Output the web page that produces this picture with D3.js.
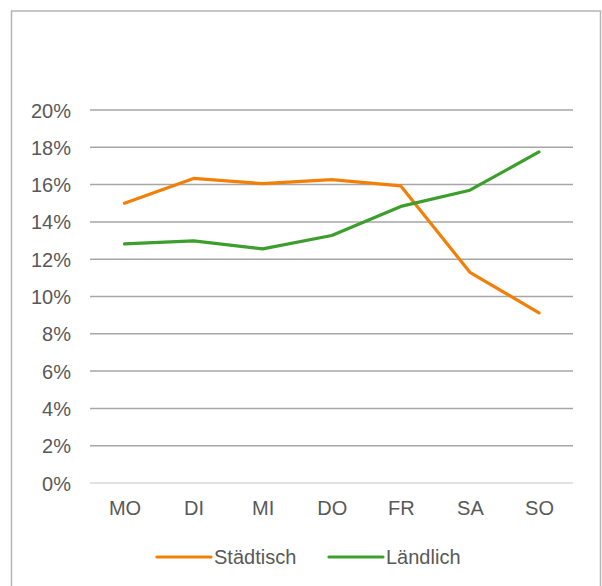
<!DOCTYPE html>
<html>
<head>
<meta charset="utf-8">
<script src="https://cdn.jsdelivr.net/npm/d3@7"></script>
<style>
  html, body { margin: 0; padding: 0; background: #fff; }
  svg { display: block; }
  text { font-family: "Liberation Sans", Arial, sans-serif; fill: #595959; }
</style>
</head>
<body>
<svg id="chart" width="602" height="586"></svg>
<script>
// Weekday share of trips, urban vs rural
const days = ["MO", "DI", "MI", "DO", "FR", "SA", "SO"];
const staedtisch = [15.0, 16.33, 16.05, 16.27, 15.93, 11.3, 9.12];
const laendlich = [12.82, 12.98, 12.55, 13.27, 14.83, 15.7, 17.75];
const yTicks = [0, 2, 4, 6, 8, 10, 12, 14, 16, 18, 20];
const seriesNames = ["Städtisch", "Ländlich"];
const seriesColors = ["#f28008", "#3c9e2c"];

const fontSize = 20;
const svg = d3.select("#chart");

// outer frame
svg.append("rect")
  .attr("x", 11.5).attr("y", 11)
  .attr("width", 589).attr("height", 590)
  .attr("fill", "none")
  .attr("stroke", "#b4b4b4")
  .attr("stroke-width", 1.5);

const x = d3.scalePoint().domain(days).range([124.5, 539]);
const y = d3.scaleLinear().domain([0, 20]).range([483, 110]);
const gridLeft = 90, gridRight = 573;

// horizontal gridlines
svg.append("g").selectAll("line")
  .data(yTicks)
  .join("line")
  .attr("x1", gridLeft).attr("x2", gridRight)
  .attr("y1", d => y(d)).attr("y2", d => y(d))
  .attr("stroke", d => d === 0 ? "#d9d9d9" : "#a6a6a6")
  .attr("stroke-width", 1.5);

// y axis labels
const yAxis = d3.axisLeft(y).tickValues(yTicks).tickFormat(d => d + "%").tickSize(0).tickPadding(0);
const gy = svg.append("g").attr("transform", "translate(71,0)").call(yAxis);
gy.select(".domain").remove();
gy.selectAll("text")
  .attr("font-size", fontSize)
  .attr("font-family", "Liberation Sans, Arial, sans-serif")
  .attr("fill", "#595959")
  .attr("dy", "0.35em");

// x axis labels
const xAxis = d3.axisBottom(x).tickSize(0).tickPadding(0);
const gx = svg.append("g").attr("transform", "translate(0,501)").call(xAxis);
gx.select(".domain").remove();
gx.selectAll("text")
  .attr("font-size", fontSize)
  .attr("font-family", "Liberation Sans, Arial, sans-serif")
  .attr("fill", "#595959")
  .attr("dy", "0.71em");

// series lines
const line = d3.line().x((d, i) => x(days[i])).y(d => y(d));
[staedtisch, laendlich].forEach((vals, k) => {
  svg.append("path")
    .datum(vals)
    .attr("fill", "none")
    .attr("stroke", seriesColors[k])
    .attr("stroke-width", 3.2)
    .attr("stroke-linejoin", "round")
    .attr("stroke-linecap", "round")
    .attr("d", line);
});

// legend
const legendItems = [
  { name: seriesNames[0], color: seriesColors[0], x: 157 },
  { name: seriesNames[1], color: seriesColors[1], x: 329 }
];
const lg = svg.append("g").attr("transform", "translate(0,557)");
legendItems.forEach(it => {
  lg.append("line")
    .attr("x1", it.x).attr("x2", it.x + 54)
    .attr("y1", 0).attr("y2", 0)
    .attr("stroke", it.color)
    .attr("stroke-width", 3.2)
    .attr("stroke-linecap", "round");
  lg.append("text")
    .attr("x", it.x + 57)
    .attr("y", 0)
    .attr("dy", "0.35em")
    .attr("font-size", fontSize)
    .text(it.name);
});
</script>
</body>
</html>
